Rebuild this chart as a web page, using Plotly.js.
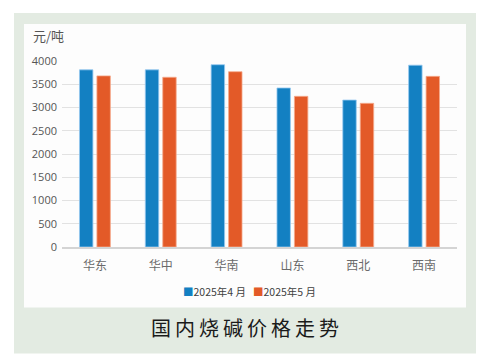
<!DOCTYPE html>
<html><head><meta charset="utf-8">
<script src="https://cdn.plot.ly/plotly-3.0.1.min.js"></script>
<style>html,body{margin:0;padding:0;background:#fff}#c{width:490px;height:363px}</style>
</head><body><div id="c"></div>
<script>
const categories = ["华东","华中","华南","山东","西北","西南"];
const seriesNames = ["2025年4 月","2025年5 月"];
const seriesColors = ["#1380c2","#e35a28"];
const april = [3810, 3810, 3920, 3420, 3160, 3910];
const may = [3680, 3650, 3770, 3240, 3090, 3670];
const yTicks = [0,500,1000,1500,2000,2500,3000,3500,4000];
const titleText = "国内烧碱价格走势";

const font = "'Open Sans','Noto Sans CJK SC',sans-serif";
const cjk = "'Noto Sans CJK SC',sans-serif";
const px = v => (v-62)/395;
const py = v => (246.7-v)/185.7;
const traces = [
  {type:'bar', x:categories, y:april, name:seriesNames[0],
   marker:{color:seriesColors[0], line:{color:'rgba(150,200,240,0.8)', width:1}}},
  {type:'bar', x:categories, y:may, name:seriesNames[1],
   marker:{color:seriesColors[1], line:{color:'rgba(245,170,140,0.8)', width:1}}}
];
const legendAnn = [[248,'right'], [251,'left']].map((p,i)=>({
  text:'<span style="color:'+seriesColors[i]+'">■</span>'+seriesNames[i],
  xref:'paper', yref:'paper', x:px(p[0]), y:py(291), xanchor:p[1], yanchor:'middle',
  showarrow:false, font:{family:cjk, size:10.5, color:'#404040'}
}));
const layout = {
  width:490, height:363,
  paper_bgcolor:'#ffffff', plot_bgcolor:'rgba(0,0,0,0)',
  margin:{l:62, r:33, t:61, b:116},
  barmode:'group', bargap:0.47, bargroupgap:0.23,
  showlegend:false,
  xaxis:{showgrid:false, showline:true, linecolor:'#d4d4d4', linewidth:2,
    tickfont:{family:cjk, size:12, color:'#6a6a6a'}, ticks:'', ticklabelstandoff:7},
  yaxis:{range:[0,4000], tickvals:yTicks, ticktext:yTicks.map(String),
    showgrid:true, gridcolor:'#e2e2e2', gridwidth:1, zeroline:false, showline:false,
    tickfont:{family:font, size:11, color:'#555555'}, ticks:'', ticklabelstandoff:4},
  shapes:[
    {type:'rect', xref:'paper', yref:'paper', layer:'below',
     x0:px(14), x1:px(476), y0:py(353), y1:py(13),
     fillcolor:'#e3ebe2', line:{width:0}},
    {type:'rect', xref:'paper', yref:'paper', layer:'below',
     x0:px(24), x1:px(466), y0:py(307), y1:py(24),
     fillcolor:'#fdfdfd', line:{width:0}}
  ],
  annotations:[
    {text:'元/吨', xref:'paper', yref:'paper', x:px(31), y:py(36),
     xanchor:'left', yanchor:'middle', showarrow:false,
     font:{family:cjk, size:13, color:'#555555'}},
    {text:titleText.split('').join('\u2009'), xref:'paper', yref:'paper', x:px(245), y:py(327),
     xanchor:'center', yanchor:'middle', showarrow:false,
     font:{family:cjk, size:20, color:'#1a1a1a'}}
  ].concat(legendAnn)
};
Plotly.newPlot('c', traces, layout, {displayModeBar:false, staticPlot:true});
</script></body></html>
